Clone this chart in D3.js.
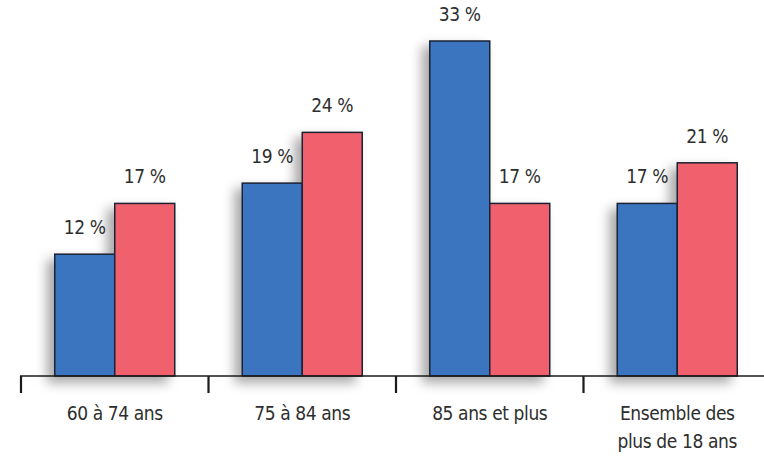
<!DOCTYPE html>
<html><head><meta charset="utf-8">
<script src="https://cdn.jsdelivr.net/npm/d3@7"></script>
<style>
html,body{margin:0;padding:0;background:#fff;}
text{font-family:"DejaVu Sans Condensed","Liberation Sans Narrow",sans-serif;fill:#2e2e2e;letter-spacing:-0.4px;}
</style></head>
<body><svg id="c" width="764" height="456"></svg>
<script>
const categories = ["60 à 74 ans","75 à 84 ans","85 ans et plus","Ensemble des|plus de 18 ans"];
const seriesNames = ["s1","s2"];
const blueValues = [12,19,33,17];
const redValues = [17,24,17,21];
const colors = ["#3b74bf","#f0616d"];

const svg = d3.select("#c");
const baseY = 376;
const x0 = d3.scaleBand().domain(categories).range([21,771]).paddingInner(0).paddingOuter(0);
const x1 = d3.scaleBand().domain(seriesNames).range([x0.bandwidth()/2-60, x0.bandwidth()/2+60]);
const y = d3.scaleLinear().domain([0,33]).range([baseY, 41]);

const defs = svg.append("defs");
const f = defs.append("filter").attr("id","sh").attr("x","-30%").attr("y","-10%").attr("width","160%").attr("height","130%");
f.append("feDropShadow").attr("dx",-7).attr("dy",6).attr("stdDeviation",6).attr("flood-color","#000").attr("flood-opacity",0.35);

const data = categories.map((c,i)=>({cat:c, vals:[blueValues[i], redValues[i]]}));

const g = svg.append("g");
const groups = g.selectAll("g.grp").data(data).join("g").attr("class","grp")
  .attr("transform", d=>`translate(${x0(d.cat)},0)`);
const gb = groups.append("g").attr("filter","url(#sh)");
gb.selectAll("rect").data(d=>d.vals.map((v,j)=>({s:seriesNames[j],v,j}))).join("rect")
  .attr("x", d=>x1(d.s)).attr("width", x1.bandwidth())
  .attr("y", d=>y(d.v)).attr("height", d=>baseY-y(d.v))
  .attr("fill", d=>colors[d.j]).attr("stroke","#1c2233").attr("stroke-width",1.5);
groups.selectAll("text.val").data(d=>d.vals.map((v,j)=>({s:seriesNames[j],v,j}))).join("text")
  .attr("class","val")
  .attr("x", d=>x1(d.s)+x1.bandwidth()/2).attr("y", d=>y(d.v)-20)
  .attr("text-anchor","middle").attr("font-size",19)
  .text(d=>d.v+" %");

// axis
const axG = svg.append("g").attr("transform",`translate(0,${baseY})`);
axG.append("line").attr("x1",20).attr("x2",764).attr("y1",0).attr("y2",0).attr("stroke","#1a1a1a").attr("stroke-width",1.5);
axG.selectAll("line.tick").data(categories).join("line").attr("class","tick")
  .attr("x1",d=>x0(d)).attr("x2",d=>x0(d)).attr("y1",0).attr("y2",17)
  .attr("stroke","#1a1a1a").attr("stroke-width",2.2);
const lab = axG.selectAll("text.cat").data(categories).join("text").attr("class","cat")
  .attr("x", d=>x0(d)+x0.bandwidth()/2).attr("y",44)
  .attr("text-anchor","middle").attr("font-size",19);
lab.each(function(d){
  const parts = d.split("|");
  d3.select(this).selectAll("tspan").data(parts).join("tspan")
    .attr("x", x0(d)+x0.bandwidth()/2).attr("dy",(p,i)=>i?28:0).text(p=>p);
});
</script></body></html>
